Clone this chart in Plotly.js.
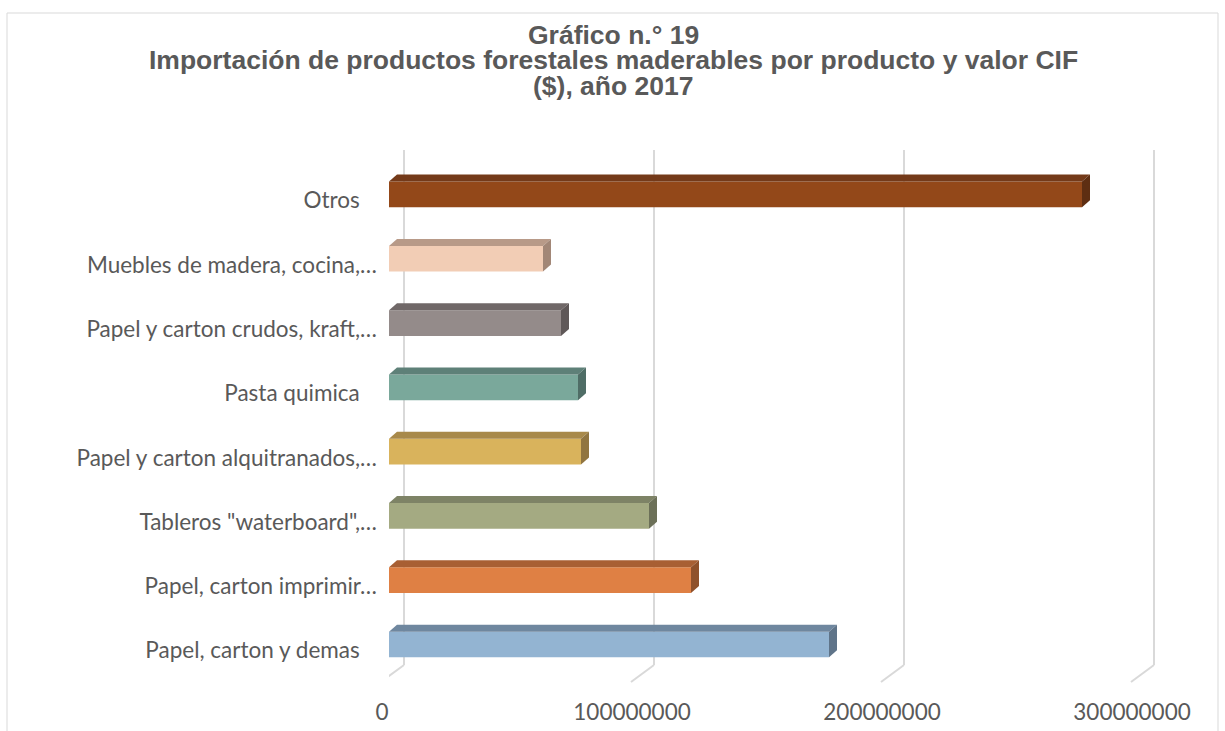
<!DOCTYPE html>
<html><head><meta charset="utf-8">
<script src="https://cdn.plot.ly/plotly-3.0.1.min.js"></script>
<style>html,body{margin:0;padding:0;background:#fff}</style>
</head><body><div id="chart" style="width:1225px;height:731px"></div>
<script>
// ---- data ----
const categories = ["Papel, carton y demas", "Papel, carton imprimir…", "Tableros \"waterboard\",…", "Papel y carton alquitranados,…", "Pasta quimica", "Papel y carton crudos, kraft,…", "Muebles de madera, cocina,…", "Otros"];
const categoryLabels = ["Papel, carton y demas\u00a0\u00a0\u00a0", "Papel, carton imprimir…", "Tableros \"waterboard\",…", "Papel y carton alquitranados,…", "Pasta quimica\u00a0\u00a0\u00a0", "Papel y carton crudos, kraft,…", "Muebles de madera, cocina,…", "Otros\u00a0\u00a0\u00a0"];
const values = [176000000, 120800000, 104000000, 76800000, 75600000, 68800000, 61600000, 277200000];
const frontColors = ["#93B4D2", "#DF8044", "#A4AA82", "#D9B35C", "#7AA89B", "#948B8A", "#F2CDB5", "#934819"];
const topColors = ["#6F879F", "#A85F33", "#7E8366", "#A8894A", "#5E8078", "#706868", "#B89A88", "#743A19"];
const sideColors = ["#5F7489", "#8F512B", "#6C7058", "#917540", "#4F6D66", "#5F5858", "#A28777", "#5E2E12"];
const tickValues = [0, 100000000, 200000000, 300000000];
const tickLabels = ["0", "100000000", "200000000", "300000000"];
const titleLines = ["Gráfico n.° 19", "Importación de productos forestales maderables por producto y valor CIF", "($), año 2017"];

// ---- geometry ----
const W = 1225, H = 731;
const px = v => v / W, py = v => 1 - v / H;
const pxPerUnitX = 250 / 100000000;
const x0px = 389;
const xDom = [389, 1189];
const xRange = [0, (xDom[1] - x0px) / pxPerUnitX];
const pxPerUnitY = 64.29;
const y0px = 644.5;
const yDom = [690, 140];
const yRange = [-(yDom[0] - y0px) / pxPerUnitY, (y0px - yDom[1]) / pxPerUnitY];
const barW = 0.40;
const dX = 8 / pxPerUnitX, dY = 7 / pxPerUnitY;
const idx = categories.map((c, i) => i);

const traces = [];
traces.push({
  type: 'bar', orientation: 'h', x: values, y: idx, width: barW,
  marker: {color: frontColors, line: {width: 0}}, hoverinfo: 'skip', showlegend: false
});
idx.forEach(i => {
  const v = values[i];
  const yt = i + barW / 2, yb = i - barW / 2;
  traces.push({
    type: 'scatter', mode: 'lines', fill: 'toself', fillcolor: topColors[i],
    x: [0, v, v + dX, dX, 0], y: [yt, yt, yt + dY, yt + dY, yt],
    line: {width: 0, color: topColors[i]}, hoverinfo: 'skip', showlegend: false
  });
  traces.push({
    type: 'scatter', mode: 'lines', fill: 'toself', fillcolor: sideColors[i],
    x: [v, v, v + dX, v + dX, v], y: [yb, yt, yt + dY, yb + dY, yb],
    line: {width: 0, color: sideColors[i]}, hoverinfo: 'skip', showlegend: false
  });
});

const shapes = [{
  type: 'rect', xref: 'paper', yref: 'paper', x0: px(7), x1: px(1218), y0: py(760), y1: py(13),
  line: {color: '#D9D9D9', width: 1}, layer: 'below'
}];
tickValues.forEach(v => {
  shapes.push({type: 'line', xref: 'x', xsizemode: 'pixel', xanchor: v, x0: 15, x1: 15,
    yref: 'paper', y0: py(665), y1: py(150), line: {color: '#D9D9D9', width: 2}, layer: 'below'});
  shapes.push({type: 'line', xref: 'x', xsizemode: 'pixel', xanchor: v, x0: 15, x1: -8,
    yref: 'paper', y0: py(665), y1: py(682), line: {color: '#D9D9D9', width: 2}, layer: 'below'});
});

const titleY = [35, 60, 86];
const annotations = titleLines.map((t, i) => ({
  text: t, xref: 'paper', yref: 'paper', x: px(613), y: py(titleY[i]), xanchor: 'center', yanchor: 'middle',
  showarrow: false, font: {family: 'Liberation Sans, Arial, sans-serif', size: 26.5, weight: 'bold', color: '#595959'}
}));

const labelFont = {family: 'Lato, sans-serif', size: 22.5, color: '#595959'};
const layout = {
  width: W, height: H, margin: {l: 0, r: 0, t: 0, b: 0},
  paper_bgcolor: '#FFFFFF', plot_bgcolor: 'rgba(0,0,0,0)', showlegend: false,
  xaxis: {domain: [px(xDom[0]), px(xDom[1])], range: xRange, showgrid: false, zeroline: false, showline: false,
    ticks: '', tickmode: 'array', tickvals: tickValues, ticktext: tickLabels, tickfont: labelFont,
    ticklabelshift: -7, ticklabelstandoff: 6, fixedrange: true},
  yaxis: {domain: [py(yDom[0]), py(yDom[1])], range: yRange, showgrid: false, zeroline: false, showline: false,
    ticks: '', tickmode: 'array', tickvals: idx, ticktext: categoryLabels, tickfont: labelFont,
    ticklabelstandoff: 11, ticklabelshift: 6, fixedrange: true},
  shapes: shapes, annotations: annotations
};
Plotly.newPlot('chart', traces, layout, {displayModeBar: false, staticPlot: true});
</script></body></html>
